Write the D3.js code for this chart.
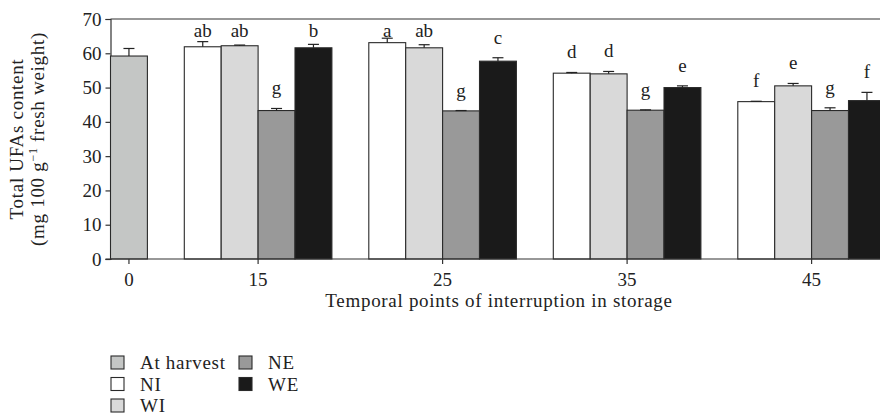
<!DOCTYPE html>
<html>
<head>
<meta charset="utf-8">
<script src="https://cdn.jsdelivr.net/npm/d3@7/dist/d3.min.js"></script>
<style>
  html, body { margin: 0; padding: 0; background: #fff; }
  svg { display: block; }
  text { font-family: "Liberation Serif", "Times New Roman", serif; fill: #222; }
  .word { letter-spacing: 0.7px; }
</style>
</head>
<body>
<svg id="chart" width="880" height="419"></svg>
<script>
// Storage interruption day (x categories)
const days = ["0", "15", "25", "35", "45"];
const treatments = ["At harvest", "NI", "WI", "NE", "WE"];
const yTicks = [0, 10, 20, 30, 40, 50, 60, 70];

// Total UFAs content (mg 100 g-1 fresh weight): mean, error, letter per treatment
const harvestMean = [59.2];
const harvestErr = [2.2];
const niMean = [61.9, 63.1, 54.2, 45.9];
const niErr = [1.5, 1.3, 0.2, 0.1];
const niLetters = ["ab", "a", "d", "f"];
const wiMean = [62.2, 61.6, 54.0, 50.5];
const wiErr = [0.2, 0.9, 0.7, 0.7];
const wiLetters = ["ab", "ab", "d", "e"];
const neMean = [43.3, 43.2, 43.4, 43.3];
const neErr = [0.6, 0.1, 0.1, 0.8];
const neLetters = ["g", "g", "g", "g"];
const weMean = [61.6, 57.7, 50.0, 46.2];
const weErr = [1.0, 1.0, 0.5, 2.4];
const weLetters = ["b", "c", "e", "f"];

const colors = {
  "At harvest": "#c4c6c5",
  "NI": "#ffffff",
  "WI": "#d9d9d9",
  "NE": "#999999",
  "WE": "#1a1a1a"
};

const fontSize = 19;

// Groups of bars: day 0 holds the harvest bar only, other days hold four treatments
const groups = days.map((day, i) => {
  if (i === 0) {
    return { day, bars: [{ t: "At harvest", v: harvestMean[0], e: harvestErr[0], l: "" }] };
  }
  const k = i - 1;
  return {
    day,
    bars: [
      { t: "NI", v: niMean[k], e: niErr[k], l: niLetters[k] },
      { t: "WI", v: wiMean[k], e: wiErr[k], l: wiLetters[k] },
      { t: "NE", v: neMean[k], e: neErr[k], l: neLetters[k] },
      { t: "WE", v: weMean[k], e: weErr[k], l: weLetters[k] }
    ]
  };
});

// Slot layout: each bar takes one slot, one empty slot between groups
let slot = 0;
groups.forEach(g => {
  g.start = slot;
  g.bars.forEach((b, j) => { b.slot = slot + j; });
  slot += g.bars.length + 1;
  g.center = g.start + g.bars.length / 2;
});
const totalSlots = slot - 1;

const svg = d3.select("#chart");
const plotLeft = 110.5, plotTop = 19, plotBottom = 259;

const x = d3.scaleLinear().domain([0, totalSlots]).range([plotLeft, plotLeft + totalSlots * 36.9]);
const y = d3.scaleLinear().domain([0, 70]).range([plotBottom, plotTop]);
const bw = x(1) - x(0);

// Frame: top border and y axis
svg.append("line")
  .attr("x1", plotLeft).attr("x2", 880).attr("y1", plotTop).attr("y2", plotTop)
  .attr("stroke", "#333").attr("stroke-width", 1.2);

const yAxis = svg.append("g")
  .attr("transform", `translate(${plotLeft},0)`)
  .call(d3.axisLeft(y).tickValues(yTicks).tickSize(5).tickPadding(4).tickFormat(d3.format("d")));
yAxis.select(".domain").attr("stroke", "#333").attr("stroke-width", 1.2);
yAxis.selectAll(".tick line").attr("stroke", "#333").attr("stroke-width", 1.2);
yAxis.selectAll(".tick text")
  .attr("font-size", fontSize)
  .attr("font-family", "Liberation Serif")
  .attr("fill", "#222");

// Bars
const bars = groups.flatMap(g => g.bars);
svg.append("g").selectAll("rect")
  .data(bars).join("rect")
  .attr("x", d => x(d.slot))
  .attr("y", d => y(d.v))
  .attr("width", bw)
  .attr("height", d => y(0) - y(d.v))
  .attr("fill", d => colors[d.t])
  .attr("stroke", "#2a2a2a")
  .attr("stroke-width", 1.1);

// Error bars (upper whisker with cap)
const eb = svg.append("g").attr("stroke", "#222").attr("stroke-width", 1.2);
eb.selectAll("line.v").data(bars).join("line").attr("class", "v")
  .attr("x1", d => x(d.slot + 0.5)).attr("x2", d => x(d.slot + 0.5))
  .attr("y1", d => y(d.v)).attr("y2", d => y(d.v + d.e));
eb.selectAll("line.c").data(bars).join("line").attr("class", "c")
  .attr("x1", d => x(d.slot + 0.5) - 5.5).attr("x2", d => x(d.slot + 0.5) + 5.5)
  .attr("y1", d => y(d.v + d.e)).attr("y2", d => y(d.v + d.e));

// Significance letters above the whiskers
svg.append("g").selectAll("text")
  .data(bars.filter(d => d.l)).join("text")
  .attr("x", d => x(d.slot + 0.5))
  .attr("y", d => Math.max(y(d.v + d.e) - 14, plotTop + 18))
  .attr("text-anchor", "middle")
  .attr("font-size", fontSize)
  .text(d => d.l);

// X axis
svg.append("line")
  .attr("x1", plotLeft - 5).attr("x2", 880).attr("y1", plotBottom).attr("y2", plotBottom)
  .attr("stroke", "#333").attr("stroke-width", 1.2);
svg.append("g").selectAll("line")
  .data(groups).join("line")
  .attr("x1", d => x(d.center)).attr("x2", d => x(d.center))
  .attr("y1", plotBottom).attr("y2", plotBottom + 5)
  .attr("stroke", "#333").attr("stroke-width", 1.2);
svg.append("g").selectAll("text")
  .data(groups).join("text")
  .attr("x", d => x(d.center))
  .attr("y", plotBottom + 26.5)
  .attr("text-anchor", "middle")
  .attr("font-size", fontSize)
  .text(d => d.day);

// Axis titles
svg.append("text")
  .attr("class", "word")
  .attr("x", 499).attr("y", 307)
  .attr("text-anchor", "middle")
  .attr("font-size", fontSize)
  .text("Temporal points of interruption in storage");

const yTitle = svg.append("text")
  .attr("class", "word")
  .attr("transform", `translate(23,${(plotTop + plotBottom) / 2}) rotate(-90)`)
  .attr("text-anchor", "middle")
  .attr("font-size", fontSize);
yTitle.append("tspan").attr("x", 0).attr("dy", 0).text("Total UFAs content");
const l2 = yTitle.append("tspan").attr("x", 0).attr("dy", 21);
l2.append("tspan").text("(mg 100 g");
l2.append("tspan").attr("dy", -7).attr("font-size", 12).text("−1");
l2.append("tspan").attr("dy", 7).text(" fresh weight)");

// Legend in two columns
const legendItems = treatments.map((t, i) => ({
  t,
  col: i < 3 ? 0 : 1,
  row: i < 3 ? i : i - 3
}));
const lg = svg.append("g").selectAll("g")
  .data(legendItems).join("g")
  .attr("transform", d => `translate(${111 + d.col * 128},${356 + d.row * 21.5})`);
lg.append("rect")
  .attr("width", 13).attr("height", 13)
  .attr("fill", d => colors[d.t])
  .attr("stroke", "#2a2a2a").attr("stroke-width", 1.1);
lg.append("text")
  .attr("class", "word")
  .attr("x", 29).attr("y", 13)
  .attr("font-size", fontSize)
  .text(d => d.t);
</script>
</body>
</html>
